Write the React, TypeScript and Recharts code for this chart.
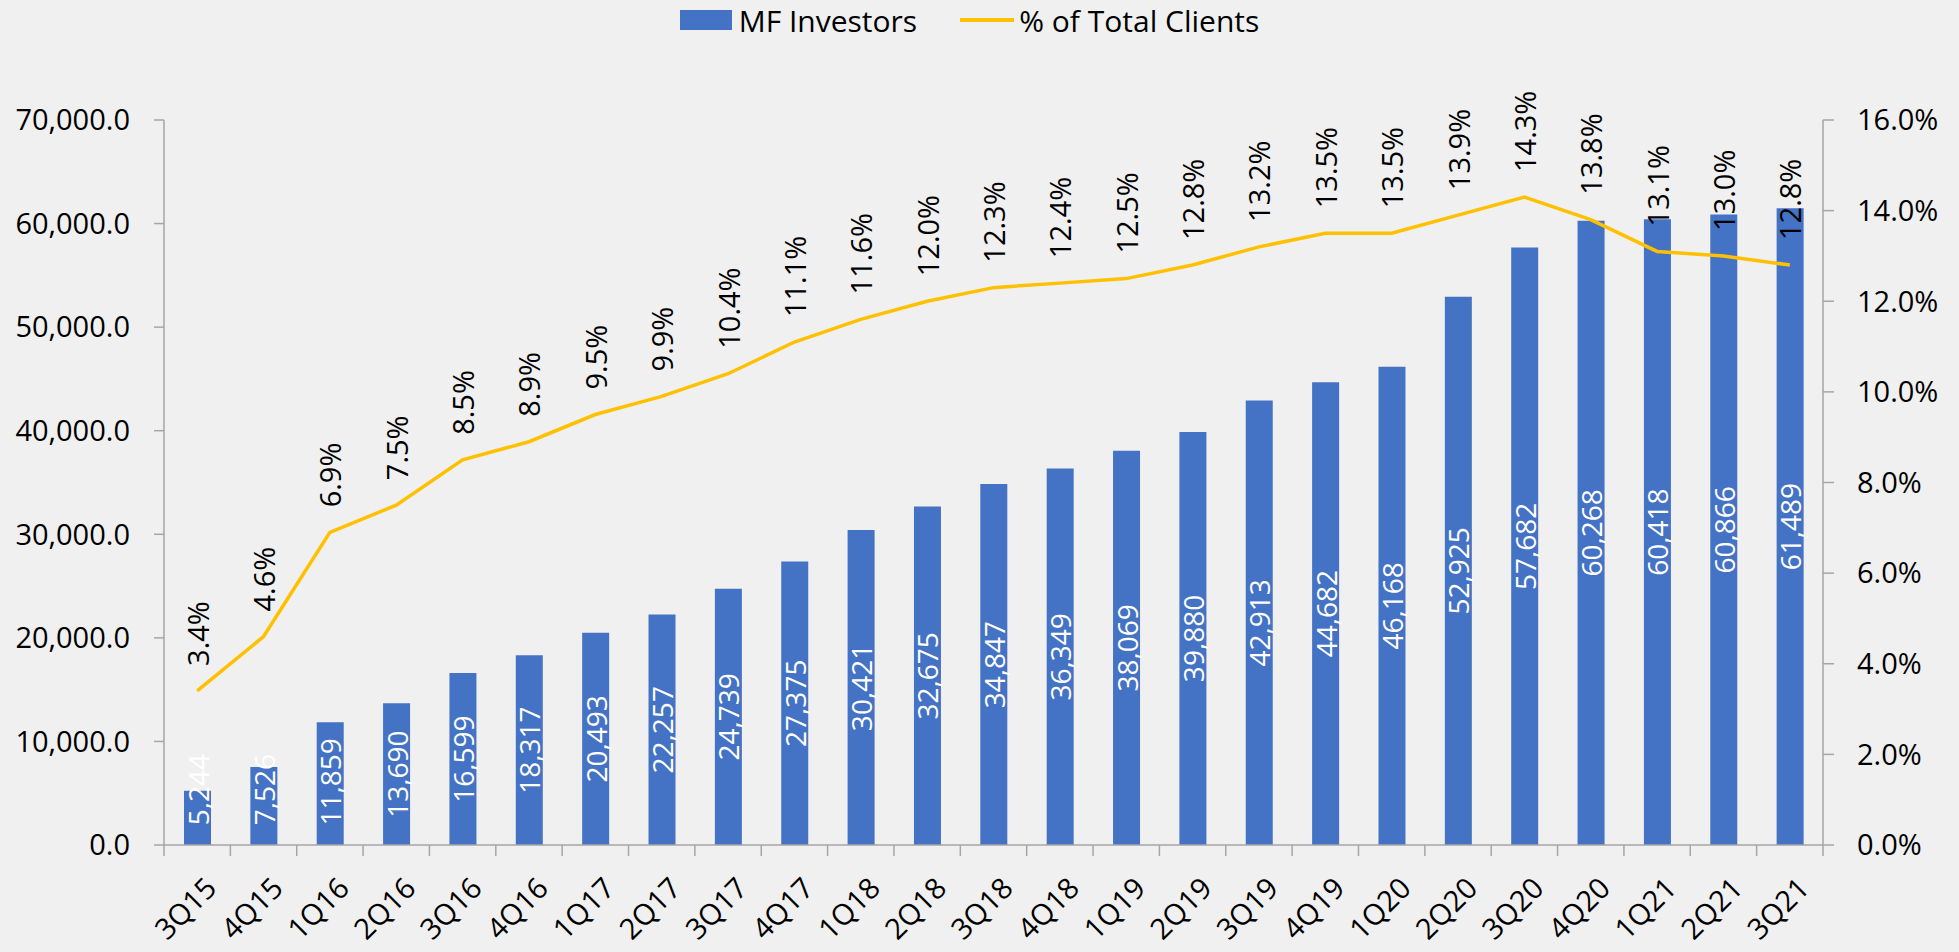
import { Bar, ComposedChart, LabelList, Line, XAxis, YAxis } from "recharts";

const quarters = [
  "3Q15", "4Q15", "1Q16", "2Q16", "3Q16", "4Q16", "1Q17", "2Q17", "3Q17", "4Q17",
  "1Q18", "2Q18", "3Q18", "4Q18", "1Q19", "2Q19", "3Q19", "4Q19", "1Q20", "2Q20",
  "3Q20", "4Q20", "1Q21", "2Q21", "3Q21",
];
const mfInvestors = [
  5244, 7526, 11859, 13690, 16599, 18317, 20493, 22257, 24739, 27375,
  30421, 32675, 34847, 36349, 38069, 39880, 42913, 44682, 46168, 52925,
  57682, 60268, 60418, 60866, 61489,
];
const pctOfClients = [
  3.4, 4.6, 6.9, 7.5, 8.5, 8.9, 9.5, 9.9, 10.4, 11.1,
  11.6, 12.0, 12.3, 12.4, 12.5, 12.8, 13.2, 13.5, 13.5, 13.9,
  14.3, 13.8, 13.1, 13.0, 12.8,
];
const leftTicks = [0, 10000, 20000, 30000, 40000, 50000, 60000, 70000];
const rightTicks = [0, 2, 4, 6, 8, 10, 12, 14, 16];

const data = quarters.map((q, i) => ({ q, mf: mfInvestors[i], pct: pctOfClients[i] }));

const W = 1959;
const H = 952;
const LEFT_W = 164;
const RIGHT_W = 136;
const BAND = (W - LEFT_W - RIGHT_W) / quarters.length;
const FONT = "'Open Sans', sans-serif";
const FS = 29;
const AXIS = "#a6a6a6";
const BLUE = "#4472c4";
const GOLD = "#ffc000";

const fmtThousands = (v: number) =>
  v.toLocaleString("en-US", { minimumFractionDigits: 1, maximumFractionDigits: 1 });

function QuarterTick(props: any) {
  const { x, y, payload, index } = props;
  const left = x - BAND / 2;
  const right = x + BAND / 2;
  const tx = x + 13;
  const ty = y + 37;
  return (
    <g>
      <line x1={left} y1={y} x2={left} y2={y + 11} stroke={AXIS} strokeWidth={1.5} />
      {index === quarters.length - 1 && (
        <line x1={right} y1={y} x2={right} y2={y + 11} stroke={AXIS} strokeWidth={1.5} />
      )}
      <text
        x={tx}
        y={ty}
        textAnchor="end"
        dominantBaseline="central"
        transform={`rotate(-45, ${tx}, ${ty})`}
        fontFamily={FONT}
        fontSize={FS}
        fill="#000"
      >
        {payload.value}
      </text>
    </g>
  );
}

function BarValue(props: any) {
  const { x, y, width, height, value } = props;
  const label = Number(value).toLocaleString("en-US");
  const base = y + height;
  const half = (label.length * 0.55 * 28) / 2;
  const cx = x + width / 2;
  const cy = Math.min(y + height / 2, base - 17 - half);
  return (
    <text
      x={cx}
      y={cy}
      textAnchor="middle"
      dominantBaseline="central"
      transform={`rotate(-90, ${cx}, ${cy})`}
      fontFamily={FONT}
      fontSize={28}
      fill="#fff"
    >
      {label}
    </text>
  );
}

function PctValue(props: any) {
  const { x, y, value } = props;
  const ty = y - 25;
  return (
    <text
      x={x}
      y={ty}
      textAnchor="start"
      dominantBaseline="central"
      transform={`rotate(-90, ${x}, ${ty})`}
      fontFamily={FONT}
      fontSize={FS}
      fill="#000"
    >
      {`${Number(value).toFixed(1)}%`}
    </text>
  );
}

function LegendRow() {
  return (
    <div
      style={{
        position: "absolute",
        top: 0,
        left: 0,
        width: W - 20,
        height: 40,
        display: "flex",
        justifyContent: "center",
        alignItems: "center",
        fontFamily: FONT,
        fontSize: 30,
        color: "#000",
      }}
    >
      <span style={{ width: 52, height: 20, background: BLUE, marginRight: 7 }} />
      <span>MF Investors</span>
      <span style={{ width: 54, height: 4, background: GOLD, marginLeft: 43, marginRight: 5 }} />
      <span>% of Total Clients</span>
    </div>
  );
}

export default function App() {
  return (
    <div style={{ position: "absolute", top: 0, left: 0, width: W, height: H, background: "#f0f0f0" }}>
      <LegendRow />
      <ComposedChart
        width={W}
        height={H}
        data={data}
        margin={{ top: 120, right: 0, bottom: 0, left: 0 }}
      >
        <XAxis
          dataKey="q"
          interval={0}
          height={107}
          tickLine={false}
          tickSize={0}
          tickMargin={0}
          axisLine={{ stroke: AXIS, strokeWidth: 1.5 }}
          tick={<QuarterTick />}
        />
        <YAxis
          yAxisId="left"
          width={LEFT_W}
          domain={[0, 70000]}
          ticks={leftTicks}
          tickFormatter={fmtThousands}
          tickSize={10}
          tickMargin={24}
          axisLine={{ stroke: AXIS, strokeWidth: 1.5 }}
          tickLine={{ stroke: AXIS, strokeWidth: 1.5 }}
          tick={{ fill: "#000", fontSize: FS, fontFamily: FONT }}
        />
        <YAxis
          yAxisId="right"
          orientation="right"
          width={RIGHT_W}
          domain={[0, 16]}
          ticks={rightTicks}
          tickFormatter={(v: number) => `${v.toFixed(1)}%`}
          tickSize={11}
          tickMargin={23}
          axisLine={{ stroke: AXIS, strokeWidth: 1.5 }}
          tickLine={{ stroke: AXIS, strokeWidth: 1.5 }}
          tick={{ fill: "#000", fontSize: FS, fontFamily: FONT, textAnchor: "start" }}
        />
        <Bar yAxisId="left" dataKey="mf" fill={BLUE} barSize={27} isAnimationActive={false}>
          <LabelList dataKey="mf" content={<BarValue />} />
        </Bar>
        <Line
          yAxisId="right"
          dataKey="pct"
          stroke={GOLD}
          strokeWidth={3.5}
          dot={false}
          activeDot={false}
          isAnimationActive={false}
        >
          <LabelList dataKey="pct" content={<PctValue />} />
        </Line>
      </ComposedChart>
    </div>
  );
}
